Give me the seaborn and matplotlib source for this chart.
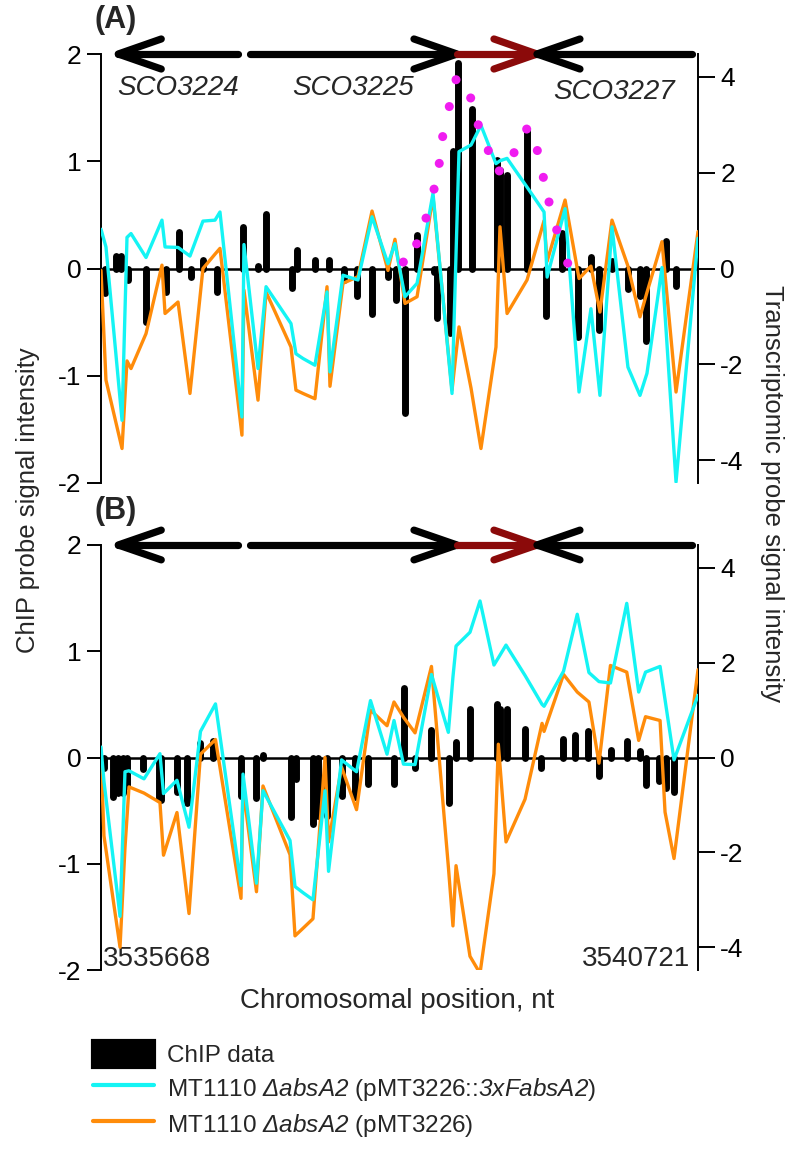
import numpy as np
import pandas as pd
import matplotlib
matplotlib.use("Agg")
import matplotlib.pyplot as plt
import seaborn as sns
from matplotlib.patches import Patch
from matplotlib.lines import Line2D

sns.set_style("white")
plt.rcParams['font.family'] = ['Liberation Sans', 'DejaVu Sans']
plt.rcParams['mathtext.fontset'] = 'custom'
plt.rcParams['mathtext.rm'] = 'Liberation Sans:italic'
plt.rcParams['mathtext.it'] = 'Liberation Sans:italic'
plt.rcParams['axes.unicode_minus'] = False

# ---------------- data ----------------
START = 3535668
END = 3540721

gene_names = ["SCO3224", "SCO3225", "SCO3226", "SCO3227"]
gene_left = [3535814, 3536929, 3538681, 3539358]
gene_right = [3536830, 3538681, 3539358, 3540668]
gene_strand = [-1, 1, 1, -1]
gene_colors = ["black", "black", "#8B0A0A", "black"]
gene_labelled = [True, True, False, True]
gene_label_y = [1.68, 1.68, 1.68, 1.65]

# Panel A: transcriptomic probes (offset from START, nt)
lineA_off = [0, 42, 178, 220, 254, 381, 516, 542, 652, 753, 863, 965, 1007, 1193, 1210,
             1329, 1397, 1608, 1650, 1710, 1811, 1913, 1938, 2048, 2175, 2294, 2429, 2488,
             2573, 2675, 2810, 2971, 3030, 3132, 3216, 3343, 3377, 3437, 3606, 3750, 3776,
             3928, 4046, 4147, 4223, 4325, 4460, 4562, 4621, 4748, 4867, 5053]
cyanA = [0.82, 0.45, -3.17, 0.65, 0.73, 0.23, 1.01, 0.45, 0.44, 0.26, 0.99, 1.01, 1.18,
         -3.10, 0.50, -2.09, -0.38, -1.15, -1.78, -1.88, -2.02, -0.49, -2.16, -0.14, -0.24,
         1.08, 0.10, 0.52, -0.59, -0.31, 1.57, -2.61, 2.44, 2.58, 2.99, 2.19, 2.25, 2.30,
         1.70, 1.18, -0.18, 1.25, -2.58, -0.84, -2.65, 0.87, -2.06, -2.65, -2.19, 0.02,
         -4.46, 0.63]
orangeA = [-0.04, -2.33, -3.76, -1.93, -2.09, -1.36, 0.07, -0.94, -0.70, -2.61, 0.0, 0.30,
           0.42, -3.48, -0.45, -2.75, -0.49, -1.64, -2.54, -2.61, -2.72, -0.38, -2.46, -0.31,
           -0.17, 1.20, -0.04, 0.61, -0.73, -0.59, 1.50, -2.54, -1.22, -2.5, -3.76, -1.64,
           0.87, -0.94, -0.24, 1.0, 0.15, 1.43, -0.21, 0.05, -0.91, 1.01, 0.05, -1.01, -0.5,
           0.56, -2.58, 0.77]

# Panel A: ChIP probes
barA_off = [34, 127, 169, 229, 381, 550, 660, 758, 863, 978, 1198, 1333, 1397, 1617, 1659,
            1811, 1926, 2053, 2167, 2290, 2429, 2493, 2569, 2675, 2819, 2844, 2954, 2982,
            3024, 3136, 3349, 3377, 3439, 3603, 3766, 3902, 4040, 4147, 4219, 4329, 4463,
            4565, 4617, 4786, 4867]
chipA = [-0.23, 0.12, 0.12, -0.11, -0.50, -0.22, 0.34, -0.08, 0.08, -0.22, 0.39, 0.02, 0.51,
         -0.18, 0.17, 0.08, 0.08, -0.11, -0.26, -0.42, -0.08, -0.29, -1.35, 0.31, -0.03,
         -0.46, -0.60, 1.10, 1.92, 1.49, 1.01, 0.92, 0.87, 1.29, -0.44, 0.33, -0.64, 0.11,
         -0.57, 0.07, -0.19, -0.26, -0.68, 0.26, -0.16]

# Panel A: peak model (magenta dots, ChIP scale)
dotA_off = [2559, 2672, 2751, 2819, 2863, 2892, 2948, 3005, 3129, 3193, 3278, 3371, 3496,
            3603, 3693, 3744, 3792, 3857, 3950]
dotA = [0.06, 0.23, 0.47, 0.74, 0.98, 1.23, 1.51, 1.76, 1.59, 1.34, 1.10, 0.91, 1.08, 1.30,
        1.10, 0.85, 0.62, 0.36, 0.05]

# Panel B: transcriptomic probes
lineB_off = [0, 25, 161, 203, 237, 364, 499, 529, 643, 745, 842, 969, 1185, 1202, 1316, 1371,
             1600, 1642, 1710, 1794, 1896, 1926, 2036, 2163, 2281, 2421, 2480, 2560, 2658,
             2797, 2940, 2979, 3005, 3123, 3208, 3326, 3363, 3428, 3589, 3733, 3750, 3915,
             4031, 4130, 4215, 4312, 4450, 4551, 4609, 4732, 4774, 4850, 5053]
cyanB = [0.22, -0.5, -3.35, -0.30, -0.28, -0.45, 0.08, -0.76, -0.48, -1.47, 0.55, 1.13,
         -2.70, -0.35, -2.65, -0.70, -1.75, -2.72, -2.85, -3.0, -0.70, -2.40, -0.05, -0.30,
         1.20, 0.07, 0.78, -0.14, -0.15, 1.75, 0.53, 1.7, 2.35, 2.64, 3.30, 1.95, 2.1, 2.37,
         1.73, 1.12, 1.08, 1.82, 3.02, 1.79, 1.60, 1.57, 3.25, 1.38, 1.80, 1.92, 1.22, -0.05,
         1.31]
orangeB = [0.1, -1.65, -4.0, -1.9, -0.62, -0.75, -0.95, -2.06, -1.16, -3.29, 0.07, 0.38,
           -2.97, -0.63, -2.83, -0.60, -2.05, -3.76, -3.6, -3.40, 0.0, -1.78, -0.2, -1.1, 1.0,
           0.67, 1.17, 0.85, 0.52, 1.92, -2.3, -3.55, -2.28, -4.19, -4.55, -2.45, 0.28, -1.78,
           -0.88, 0.72, 0.55, 1.75, 1.38, 1.17, -0.12, 1.94, 1.80, 0.36, 0.86, 0.78, -1.15,
           -2.13, 1.85]

# Panel B: ChIP probes
barB_off = [25, 102, 144, 186, 216, 355, 487, 512, 643, 732, 838, 952, 1189, 1316, 1371, 1612,
            1650, 1794, 1837, 1917, 2040, 2154, 2260, 2480, 2565, 2658, 2797, 2946, 3005,
            3127, 3349, 3377, 3439, 3589, 3728, 3910, 4012, 4126, 4211, 4317, 4455, 4558,
            4609, 4727, 4782, 4846]
chipB = [-0.10, -0.37, -0.33, -0.33, -0.27, -0.11, -0.38, -0.40, -0.32, -0.43, 0.14, 0.16,
         -0.36, -0.38, 0.02, -0.56, -0.20, -0.63, -0.55, -0.55, -0.36, -0.37, -0.25, -0.25,
         0.65, -0.10, 0.26, -0.43, 0.15, 0.46, 0.50, 0.46, 0.46, 0.27, -0.10, 0.17, 0.21,
         0.25, -0.17, 0.07, 0.16, 0.06, -0.26, -0.22, -0.29, -0.32]

CYAN = "#14F4F4"
ORANGE = "#FF8C0A"
MAGENTA = "#F01CF0"
FS = 19

# ---------------- figure ----------------
fig = plt.figure(figsize=(7.88, 11.54), dpi=100)
axA = fig.add_axes([101 / 788, 1 - 483 / 1154, 597 / 788, 429 / 1154])
axB = fig.add_axes([101 / 788, 1 - 970 / 1154, 597 / 788, 425 / 1154])

HEAD_LEN = 364
HEAD_H = 0.14


def draw_genes(ax, labels=True):
    for name, l, r, s, c, lab, ly in zip(gene_names, gene_left, gene_right, gene_strand,
                                         gene_colors, gene_labelled, gene_label_y):
        kw = dict(color=c, lw=5.2, solid_capstyle='round', solid_joinstyle='round',
                  clip_on=False, zorder=8)
        ax.plot([l, r], [2, 2], **kw)
        tip = r if s > 0 else l
        back = tip - s * HEAD_LEN
        ax.plot([back, tip, back], [2 + HEAD_H, 2, 2 - HEAD_H], **kw)
        if labels and lab:
            ax.text((l + r) / 2, ly, name, style='italic', fontsize=20,
                    ha='center', va='center')


def panel(ax, bar_off, chip, line_off, cyan, orange, dot_off=None, dots=None, labels=True):
    bar_pos = START + np.array(bar_off)
    line_pos = START + np.array(line_off)
    ax.set_xlim(START, END)
    ax.set_ylim(-2, 2)
    ax.vlines(bar_pos, 0, chip, colors='black', lw=5.0, capstyle='round', zorder=2)
    ax.axhline(0, color='black', lw=1.8, zorder=3)
    ax2 = ax.twinx()
    ax2.set_ylim(-4.48, 4.48)
    df = pd.DataFrame({"pos": line_pos, "cyan": cyan, "orange": orange})
    sns.lineplot(data=df, x="pos", y="orange", ax=ax2, color=ORANGE, lw=2.4,
                 estimator=None, sort=False, zorder=3)
    sns.lineplot(data=df, x="pos", y="cyan", ax=ax2, color=CYAN, lw=2.4,
                 estimator=None, sort=False, zorder=4)
    if dots is not None:
        sns.scatterplot(x=START + np.array(dot_off), y=dots, ax=ax2, color=MAGENTA, s=42,
                        edgecolor='none', zorder=6, legend=False, transform=ax.transData)
    ax2.set_ylim(-4.48, 4.48)
    ax2.set_xlim(START, END)
    for a in (ax, ax2):
        a.set_xlabel("")
        a.set_ylabel("")
        a.set_xticks([])
        for sp in ("top", "bottom"):
            a.spines[sp].set_visible(False)
    ax.spines["right"].set_visible(False)
    ax2.spines["left"].set_visible(False)
    ax.spines["left"].set_color("black")
    ax.spines["left"].set_linewidth(1.4)
    ax2.spines["right"].set_color("black")
    ax2.spines["right"].set_linewidth(1.4)
    ax.set_yticks([-2, -1, 0, 1, 2])
    ax.set_yticklabels(["-2", "-1", "0", "1", "2"])
    ax2.set_yticks([-4, -2, 0, 2, 4])
    ax2.set_yticklabels(["-4", "-2", "0", "2", "4"])
    ax.tick_params(axis='y', left=True, right=False, direction='out', length=10, width=1.4,
                   labelsize=FS, pad=4, colors='black')
    ax2.tick_params(axis='y', left=False, right=True, direction='out', length=12, width=1.4,
                    labelsize=FS, pad=4, colors='black')
    ax.patch.set_visible(False)
    draw_genes(ax, labels)
    return ax2


panel(axA, barA_off, chipA, lineA_off, cyanA, orangeA, dotA_off, dotA, labels=True)
panel(axB, barB_off, chipB, lineB_off, cyanB, orangeB, labels=False)

fig.text(95 / 788, 1 - 20 / 1154, "(A)", fontsize=22, fontweight='bold', ha='left', va='center')
fig.text(95 / 788, 1 - 511 / 1154, "(B)", fontsize=22, fontweight='bold', ha='left', va='center')

axB.text(START + 20, -1.9, str(START), fontsize=20, ha='left', va='center')
axB.text(END - 68, -1.9, str(END), fontsize=20, ha='right', va='center')

fig.text(397 / 788, 1 - 1001 / 1154, "Chromosomal position, nt", fontsize=20,
         ha='center', va='center')
fig.text(28 / 788, 1 - 500 / 1154, "ChIP probe signal intensity", fontsize=18.5,
         rotation=90, ha='center', va='center')
fig.text(772 / 788, 1 - 494 / 1154, "Transcriptomic probe signal intensity", fontsize=18.5,
         rotation=270, ha='center', va='center')

handles = [Patch(facecolor='black', edgecolor='black', linewidth=3, joinstyle='round'),
           Line2D([0], [0], color=CYAN, lw=3),
           Line2D([0], [0], color=ORANGE, lw=3)]
labels_leg = ["ChIP data",
              r"MT1110 $\mathit{Δ absA2}$ (pMT3226::$\mathit{3xFabsA2}$)",
              r"MT1110 $\mathit{Δ absA2}$ (pMT3226)"]
fig.legend(handles, labels_leg, loc='upper left', bbox_to_anchor=(93 / 788, 1 - 1041 / 1154),
           frameon=False, fontsize=17.5, handlelength=2.5, handleheight=1.3,
           labelspacing=0.3, handletextpad=0.55, borderpad=0, borderaxespad=0)

fig.savefig("out.png", dpi=100)
